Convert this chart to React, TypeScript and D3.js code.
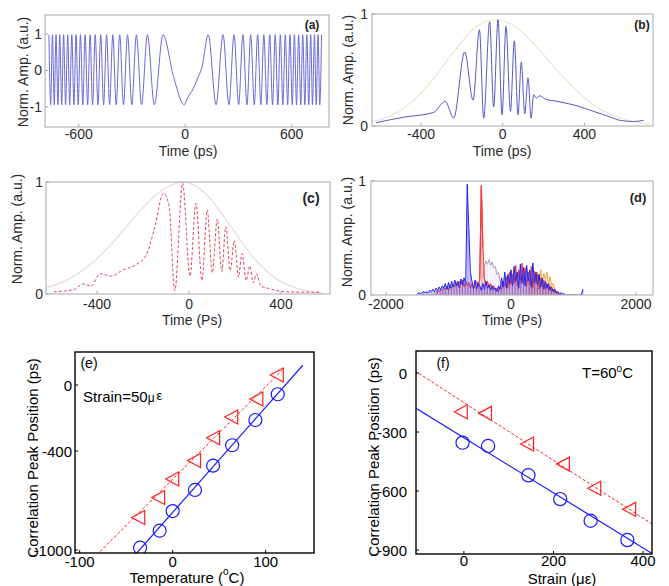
import React from "react";
import * as d3 from "d3";

// ---------- Panel (a): chirped interferogram (extrema) ----------
const aT = [-768,-758,-748,-738,-728,-717,-707,-696,-685,-674,-662,-651,-639,-627,-615,-603,-590,-577,-564,-550,-536,-522,-507,-492,-476,-460,-443,-426,-408,-389,-369,-348,-325,-301,-275,-246,-213,-174,-125,
  -66,-5,8,46,74,93,130,
  174,213,246,275,301,325,348,369,389,408,426,443,460,476,492,507,522,536,550,564,577,590,603,615,627,639,651,662,674,685,696,707,717,728,738,748,758,768];
const aV = [0.98,-0.94,0.98,-0.94,0.98,-0.94,0.98,-0.94,0.98,-0.94,
  0.98,-0.94,0.98,-0.94,0.98,-0.94,0.98,-0.94,0.98,-0.94,
  0.98,-0.94,0.98,-0.94,0.98,-0.94,0.98,-0.94,0.98,-0.94,
  0.98,-0.94,0.98,-0.94,0.98,-0.94,0.98,-0.94,0.98,
  -0.17,-0.94,-0.8,-0.49,-0.17,0.06,0.98,
  -0.94,0.98,-0.94,0.98,-0.94,0.98,-0.94,0.98,-0.94,0.98,
  -0.94,0.98,-0.94,0.98,-0.94,0.98,-0.94,0.98,-0.94,0.98,
  -0.94,0.98,-0.94,0.98,-0.94,0.98,-0.94,0.98,-0.94,0.98,
  -0.94,0.98,-0.94,0.98,-0.94,0.98,-0.94,0.98];
const aXTicks = [-600, 0, 600];
const aYTicks = [-1, 0, 1];

// ---------- Panel (b) ----------
const bT = [-620,-480,-340,-281,-240,-186,-145,-114,-93,-64,-44,-23,-3,16,38,57,75,91,108,124,139,152,165,181,209,266,320,364,446,527,576,640,690];
const bV = [0.03,0.08,0.12,0.22,0.07,0.66,0.23,0.86,0.07,0.93,0.17,0.95,0.10,0.89,0.13,0.76,0.10,0.57,0.11,0.43,0.07,0.28,0.25,0.27,0.24,0.22,0.20,0.18,0.13,0.08,0.05,0.04,0.05];
const bEnvT = [-640,-540,-440,-340,-240,-140,-40,60,160,260,360,460,560,660,720];
const bEnvV = [0.036,0.099,0.223,0.42,0.66,0.87,0.95,0.89,0.72,0.51,0.32,0.17,0.08,0.033,0.018];
const bXTicks = [-400, 0, 400];
const bYTicks = [0, 1];

// ---------- Panel (c) ----------
const cT = [-588,-499,-462,-425,-388,-336,-292,-233,-188,-151,-111,-87,-62,-28,4,30,56,79,101,123,142,160,179,197,215,230,249,264,279,293,313,345,419,567];
const cV = [0.02,0.04,0.09,0.07,0.18,0.16,0.21,0.26,0.34,0.58,0.90,0.79,0.03,0.99,0.16,0.81,0.12,0.75,0.19,0.67,0.20,0.60,0.21,0.48,0.15,0.36,0.12,0.25,0.10,0.18,0.07,0.05,0.02,0.015];
const cEnvT = [-620,-520,-420,-320,-220,-120,-20,80,180,280,380,480,580];
const cEnvV = [0.056,0.135,0.278,0.487,0.726,0.923,1.0,0.88,0.607,0.325,0.135,0.044,0.011];
const cXTicks = [-400, 0, 400];
const cYTicks = [0, 1];

// ---------- Panel (d): noisy correlation traces, sampled every 25 ps ----------
const dStep = 25;
const dBlueStart = -1500;
const dBlue = [
  0.01,0.02,0.01,0.02,0.03,0.02,0.03,0.02,0.04,0.03,
  0.05,0.03,0.06,0.04,0.07,0.05,0.08,0.06,0.10,0.05,
  0.11,0.06,0.12,0.07,0.13,0.08,0.12,0.06,0.14,0.09,
  0.15,0.10,0.97,0.58,0.20,0.12,0.06,0.13,0.05,0.11,
  0.08,0.04,0.10,0.05,0.12,0.06,0.09,0.04,0.08,0.05,
  0.06,0.03,0.08,0.05,0.15,0.07,0.20,0.06,0.18,0.10,
  0.22,0.08,0.25,0.12,0.20,0.06,0.27,0.10,0.24,0.08,
  0.26,0.12,0.22,0.07,0.28,0.11,0.20,0.09,0.18,0.07,
  0.15,0.05,0.12,0.06,0.10,0.04,0.07,0.03,0.05,0.02,
  0.03,0.01,0.02,0.01,0.01,0.0,0.0,0.0,0.0,0.0,
  0.0,0.0,0.0,0.0,0.0,0.0,0.05];
const dRedStart = -1200;
const dRed = [
  0.02,0.04,0.03,0.05,0.04,0.06,0.05,0.07,0.04,0.08,
  0.06,0.09,0.07,0.11,0.08,0.12,0.09,0.13,0.07,0.12,
  0.08,0.11,0.06,0.10,0.05,0.09,0.12,0.07,0.14,0.96,
  0.42,0.15,0.08,0.12,0.06,0.10,0.05,0.08,0.04,0.06,
  0.03,0.07,0.05,0.12,0.08,0.16,0.06,0.20,0.09,0.18,
  0.10,0.26,0.08,0.22,0.12,0.28,0.10,0.24,0.07,0.20,
  0.09,0.25,0.06,0.21,0.10,0.18,0.05,0.15,0.07,0.13,
  0.05,0.10,0.04,0.08,0.03,0.05,0.02,0.03,0.01,0.01,
  0.0];
const dVioletStart = -450;
const dViolet = [0.15,0.25,0.30,0.27,0.31,0.26,0.29,0.24,0.25,0.18,0.20,0.12,0.10,0.06];
const dOrangeStart = 300;
const dOrange = [0.05,0.12,0.08,0.18,0.10,0.20,0.12,0.22,0.10,0.19,0.14,0.20,0.10,0.16,0.08,0.10,0.05,0.04,0.02];
const dXTicks = [-2000, 0, 2000];
const dYTicks = [0, 1];

// ---------- Panel (e): peak position vs temperature ----------
const eCircT = [-35, -14, 0, 24, 43.5, 64, 89, 113];
const eCircV = [-986, -883, -764, -636, -489, -365, -212, -56];
const eTriT = [-37, -15.6, -0.5, 23, 43.5, 63, 90, 112];
const eTriV = [-803, -682, -570, -458, -320, -194, -85, 61];
const eFitBlue = { slope: 6.37, intercept: -772, from: -39, to: 140 };
const eFitRed = { slope: 5.61, intercept: -571, from: -82, to: 118 };
const eXTicks = [-100, 0, 100];
const eYTicks = [0, -400, -1000];

// ---------- Panel (f): peak position vs strain ----------
const fCircS = [-3, 54, 144, 215, 283, 365];
const fCircV = [-354, -371, -520, -641, -751, -849];
const fTriS = [-7, 47, 141, 221, 291, 369];
const fTriV = [-197, -205, -361, -463, -586, -693];
const fFitBlue = { slope: -1.40, intercept: -329, from: -110, to: 425 };
const fFitRed = { slope: -1.47, intercept: -150, from: -110, to: 425 };
const fXTicks = [0, 200, 400];
const fYTicks = [0, -300, -600, -900];

const FONT = "'Liberation Sans', Arial, Helvetica, sans-serif";

type Sc = d3.ScaleLinear<number, number>;

function zipPts(t: number[], v: number[]): [number, number][] {
  return t.map((x, i) => [x, v[i]] as [number, number]);
}
function stepPts(start: number, vals: number[]): [number, number][] {
  return vals.map((v, i) => [start + i * dStep, v] as [number, number]);
}

function Axes(props: {
  xs: Sc; ys: Sc; xTicks: number[]; yTicks: number[];
  frame: string; sw: number; font: number; color: string;
  xLabY: number; yLabX: number; id: string;
}) {
  const { xs, ys, xTicks, yTicks, frame, sw, font, color, xLabY, yLabX } = props;
  const [x0, x1] = xs.range();
  const [y1, y0] = ys.range();
  return (
    <g>
      <rect x={x0} y={y0} width={x1 - x0} height={y1 - y0} fill="none" stroke={frame} strokeWidth={sw} />
      {xTicks.map((t) => (
        <g key={"xt" + t}>
          <line x1={xs(t)} x2={xs(t)} y1={y1} y2={y1 - 3} stroke={frame} strokeWidth={1} />
          <text x={xs(t)} y={xLabY} textAnchor="middle" dominantBaseline="central" fontSize={font} fill={color}>{t}</text>
        </g>
      ))}
      {yTicks.map((t) => (
        <g key={"yt" + t}>
          <line x1={x0} x2={x0 + 3} y1={ys(t)} y2={ys(t)} stroke={frame} strokeWidth={1} />
          <text x={yLabX} y={ys(t)} textAnchor="end" dominantBaseline="central" fontSize={font} fill={color}>{t}</text>
        </g>
      ))}
    </g>
  );
}

function Clip({ id, xs, ys }: { id: string; xs: Sc; ys: Sc }) {
  const [x0, x1] = xs.range();
  const [y1, y0] = ys.range();
  return (
    <clipPath id={id}>
      <rect x={x0} y={y0} width={x1 - x0} height={y1 - y0} />
    </clipPath>
  );
}

function NoisyTrace({ xs, ys, pts, color, stemOpacity }: { xs: Sc; ys: Sc; pts: [number, number][]; color: string; stemOpacity: number }) {
  const line = d3.line<[number, number]>().x((d) => xs(d[0])).y((d) => ys(d[1]));
  return (
    <g>
      {pts.map((p, i) => (
        <line key={i} x1={xs(p[0])} x2={xs(p[0])} y1={ys(0)} y2={ys(p[1])} stroke={color} strokeWidth={0.8} opacity={stemOpacity} />
      ))}
      <path d={line(pts) || ""} fill="none" stroke={color} strokeWidth={1} />
    </g>
  );
}

export default function App() {
  const xsA = d3.scaleLinear().domain([-790, 810]).range([45, 329]);
  const ysA = d3.scaleLinear().domain([-1.55, 1.52]).range([127, 15]);
  const xsB = d3.scaleLinear().domain([-640, 736]).range([372, 653]);
  const ysB = d3.scaleLinear().domain([0, 1]).range([126, 14]);
  const xsC = d3.scaleLinear().domain([-622, 613]).range([46, 330]);
  const ysC = d3.scaleLinear().domain([0, 1]).range([294, 182]);
  const xsD = d3.scaleLinear().domain([-2240, 2272]).range([371, 653]);
  const ysD = d3.scaleLinear().domain([0, 1]).range([295, 181]);
  const xsE = d3.scaleLinear().domain([-105, 152]).range([75, 314]);
  const ysE = d3.scaleLinear().domain([-1018, 200]).range([553, 352]);
  const xsF = d3.scaleLinear().domain([-107, 420]).range([416, 652]);
  const ysF = d3.scaleLinear().domain([-920, 112]).range([554, 351]);

  const mono = (xs: Sc, ys: Sc) =>
    d3.line<[number, number]>().x((d) => xs(d[0])).y((d) => ys(d[1])).curve(d3.curveMonotoneX);
  const lin = (xs: Sc, ys: Sc) =>
    d3.line<[number, number]>().x((d) => xs(d[0])).y((d) => ys(d[1]));

  const fitPts = (f: { slope: number; intercept: number; from: number; to: number }): [number, number][] => [
    [f.from, f.intercept + f.slope * f.from],
    [f.to, f.intercept + f.slope * f.to],
  ];

  const tri = (cx: number, cy: number) =>
    `M${cx - 6.5},${cy} L${cx + 6.5},${cy - 7} L${cx + 6.5},${cy + 7} Z`;

  const topText = "#2a2a2a";
  const topFrame = "#a8a8a8";

  return (
    <div style={{ position: "absolute", left: 0, top: 0 }}>
      <svg width={669} height={586} style={{ display: "block", background: "#fff" }} fontFamily={FONT}>
        <defs>
          <Clip id="ca" xs={xsA} ys={ysA} />
          <Clip id="cb" xs={xsB} ys={ysB} />
          <Clip id="cc" xs={xsC} ys={ysC} />
          <Clip id="cd" xs={xsD} ys={ysD} />
          <Clip id="ce" xs={xsE} ys={ysE} />
          <Clip id="cf" xs={xsF} ys={ysF} />
        </defs>

        {/* (a) */}
        <g clipPath="url(#ca)">
          <path d={mono(xsA, ysA)(zipPts(aT, aV)) || ""} fill="none" stroke="#6a6ad8" strokeWidth={1} />
        </g>
        <Axes id="a" xs={xsA} ys={ysA} xTicks={aXTicks} yTicks={aYTicks} frame={topFrame} sw={1} font={14} color={topText} xLabY={134} yLabX={42} />
        <text x={312} y={25} textAnchor="middle" dominantBaseline="central" fontSize={12} fontWeight="bold" fill="#222">(a)</text>
        <text x={188} y={150.5} textAnchor="middle" dominantBaseline="central" fontSize={14} fill={topText}>Time (ps)</text>
        <text transform="translate(23,72) rotate(-90)" textAnchor="middle" dominantBaseline="central" fontSize={14} fill={topText}>Norm. Amp. (a.u.)</text>

        {/* (b) */}
        <g clipPath="url(#cb)">
          <path d={mono(xsB, ysB)(zipPts(bEnvT, bEnvV)) || ""} fill="none" stroke="#ebe8d2" strokeWidth={1.3} />
          <path d={mono(xsB, ysB)(zipPts(bT, bV)) || ""} fill="none" stroke="#5858c8" strokeWidth={1} />
        </g>
        <Axes id="b" xs={xsB} ys={ysB} xTicks={bXTicks} yTicks={bYTicks} frame={topFrame} sw={1} font={14} color={topText} xLabY={134} yLabX={368} />
        <text x={642} y={25} textAnchor="middle" dominantBaseline="central" fontSize={12} fontWeight="bold" fill="#222">(b)</text>
        <text x={502} y={150.5} textAnchor="middle" dominantBaseline="central" fontSize={14} fill={topText}>Time (ps)</text>
        <text transform="translate(348,70) rotate(-90)" textAnchor="middle" dominantBaseline="central" fontSize={14} fill={topText}>Norm. Amp. (a.u.)</text>

        {/* (c) */}
        <g clipPath="url(#cc)">
          <path d={mono(xsC, ysC)(zipPts(cEnvT, cEnvV)) || ""} fill="none" stroke="#ecdcdc" strokeWidth={1.3} />
          <path d={mono(xsC, ysC)(zipPts(cT, cV)) || ""} fill="none" stroke="#e04862" strokeWidth={1} strokeDasharray="3,2" />
        </g>
        <Axes id="c" xs={xsC} ys={ysC} xTicks={cXTicks} yTicks={cYTicks} frame={topFrame} sw={1} font={14} color={topText} xLabY={304} yLabX={43} />
        <text x={311} y={198} textAnchor="middle" dominantBaseline="central" fontSize={14} fontWeight="bold" fill="#222">(c)</text>
        <text x={192} y={320} textAnchor="middle" dominantBaseline="central" fontSize={14} fill={topText}>Time (Ps)</text>
        <text transform="translate(17,229) rotate(-90)" textAnchor="middle" dominantBaseline="central" fontSize={14} fill={topText}>Norm. Amp. (a.u.)</text>

        {/* (d) */}
        <g clipPath="url(#cd)">
          <NoisyTrace xs={xsD} ys={ysD} pts={stepPts(dOrangeStart, dOrange)} color="#f2a640" stemOpacity={0.6} />
          <NoisyTrace xs={xsD} ys={ysD} pts={stepPts(dVioletStart, dViolet)} color="#b49cc4" stemOpacity={0.25} />
          <NoisyTrace xs={xsD} ys={ysD} pts={stepPts(dRedStart, dRed)} color="#f03c3c" stemOpacity={0.6} />
          <NoisyTrace xs={xsD} ys={ysD} pts={stepPts(dBlueStart, dBlue)} color="#2222ee" stemOpacity={0.6} />
          <path d={lin(xsD, ysD)(stepPts(dRedStart, dRed).slice(28, 31)) || ""} fill="none" stroke="#f03c3c" strokeWidth={1.2} />
        </g>
        <Axes id="d" xs={xsD} ys={ysD} xTicks={dXTicks} yTicks={dYTicks} frame={topFrame} sw={1} font={14} color={topText} xLabY={304} yLabX={366} />
        <text x={638} y={197} textAnchor="middle" dominantBaseline="central" fontSize={13} fontWeight="bold" fill="#222">(d)</text>
        <text x={512} y={320} textAnchor="middle" dominantBaseline="central" fontSize={14} fill={topText}>Time (Ps)</text>
        <text transform="translate(347,232) rotate(-90)" textAnchor="middle" dominantBaseline="central" fontSize={14} fill={topText}>Norm. Amp. (a.u.)</text>

        {/* (e) */}
        <g clipPath="url(#ce)">
          <path d={lin(xsE, ysE)(fitPts(eFitRed)) || ""} fill="none" stroke="#ff2020" strokeWidth={1} strokeDasharray="3,2" />
          <path d={lin(xsE, ysE)(fitPts(eFitBlue)) || ""} fill="none" stroke="#1a1aff" strokeWidth={1.2} />
          {eTriT.map((t, i) => (
            <path key={"et" + i} d={tri(xsE(t), ysE(eTriV[i]))} fill="none" stroke="#ff2020" strokeWidth={1.2} />
          ))}
          {eCircT.map((t, i) => (
            <circle key={"ec" + i} cx={xsE(t)} cy={ysE(eCircV[i])} r={6.5} fill="none" stroke="#1a1aff" strokeWidth={1.2} />
          ))}
        </g>
        <Axes id="e" xs={xsE} ys={ysE} xTicks={eXTicks} yTicks={eYTicks} frame="#000" sw={1.4} font={15} color="#000" xLabY={561} yLabX={72} />
        <text x={89} y={363} textAnchor="middle" dominantBaseline="central" fontSize={14} fill="#000">(e)</text>
        <text x={83} y={401.5} fontSize={15} fill="#000">Strain=50<tspan fontSize={12}>μ</tspan><tspan fontSize={13} dx={2} dy={-2}>ε</tspan></text>
        <text x={187} y={577} textAnchor="middle" dominantBaseline="central" fontSize={15} fill="#000">Temperature (<tspan fontSize={10} dy={-6}>o</tspan><tspan dy={6}>C)</tspan></text>
        <text transform="translate(32,458) rotate(-90)" textAnchor="middle" dominantBaseline="central" fontSize={15} fill="#000">Correlation Peak Position (ps)</text>

        {/* (f) */}
        <g clipPath="url(#cf)">
          <path d={lin(xsF, ysF)(fitPts(fFitRed)) || ""} fill="none" stroke="#ff2020" strokeWidth={1} strokeDasharray="3,2" />
          <path d={lin(xsF, ysF)(fitPts(fFitBlue)) || ""} fill="none" stroke="#1a1aff" strokeWidth={1.2} />
          {fTriS.map((s, i) => (
            <path key={"ft" + i} d={tri(xsF(s), ysF(fTriV[i]))} fill="none" stroke="#ff2020" strokeWidth={1.2} />
          ))}
          {fCircS.map((s, i) => (
            <circle key={"fc" + i} cx={xsF(s)} cy={ysF(fCircV[i])} r={6.6} fill="none" stroke="#1a1aff" strokeWidth={1.2} />
          ))}
        </g>
        <Axes id="f" xs={xsF} ys={ysF} xTicks={fXTicks} yTicks={fYTicks} frame="#000" sw={1.4} font={15} color="#000" xLabY={560} yLabX={407} />
        <text x={443} y={363} textAnchor="middle" dominantBaseline="central" fontSize={14} fill="#000">(f)</text>
        <text x={582} y={377.5} fontSize={15} fill="#000">T=60<tspan fontSize={10} dy={-6}>o</tspan><tspan dy={6}>C</tspan></text>
        <text x={562} y={578} textAnchor="middle" dominantBaseline="central" fontSize={15} fill="#000">Strain (με)</text>
        <text transform="translate(373,457) rotate(-90)" textAnchor="middle" dominantBaseline="central" fontSize={15} fill="#000">Correlation Peak Position (ps)</text>
      </svg>
    </div>
  );
}
